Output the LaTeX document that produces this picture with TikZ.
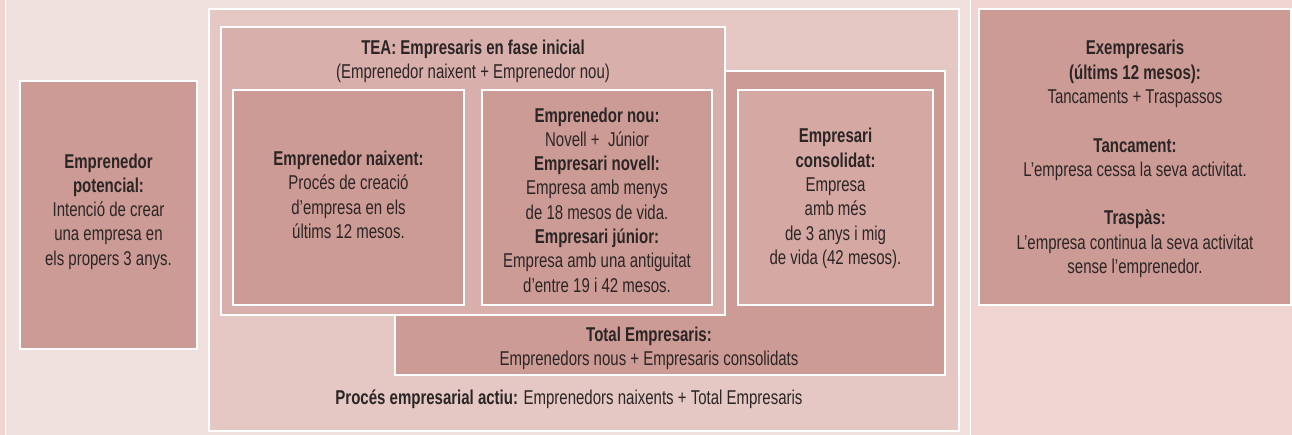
\documentclass[tikz,border=0pt]{standalone}
\usepackage{fontspec}
\setmainfont{Liberation Sans}[FakeStretch=0.75]
\definecolor{bgL}{HTML}{F0E1DF}
\definecolor{bgR}{HTML}{EFD4D1}
\definecolor{procc}{HTML}{E5C8C4}
\definecolor{teac}{HTML}{D9AFAB}
\definecolor{darkc}{HTML}{CD9B95}
\definecolor{consc}{HTML}{D5A8A3}
\definecolor{txtc}{HTML}{2B2525}
\begin{document}
\begin{tikzpicture}[x=1pt,y=-1pt,
  box/.style={draw=white, line width=1.5pt, inner sep=0pt, outer sep=0pt, rectangle},
  txt/.style={align=center, inner sep=0pt, text=txtc, font=\fontsize{20}{24.3}\selectfont}]
\useasboundingbox (0,0) rectangle (1292,435);
\fill[bgR] (0,0) rectangle (1292,435);
\node[box, fill=bgL, minimum width=965pt, minimum height=445pt] (leftpanel) at (488,217.5) {};
% boxes
\node[box, fill=procc, minimum width=750pt, minimum height=422pt] (proc) at (584,220) {};
\node[box, fill=darkc, minimum width=550pt, minimum height=304pt] (total) at (670,223) {};
\node[box, fill=teac, minimum width=504pt, minimum height=288pt] (tea) at (473,171) {};
\node[box, fill=darkc, minimum width=231pt, minimum height=215pt] (naix) at (348.5,197.5) {};
\node[box, fill=darkc, minimum width=230pt, minimum height=215pt] (nou) at (597,197.5) {};
\node[box, fill=consc, minimum width=195pt, minimum height=215pt] (cons) at (835.5,197.5) {};
\node[box, fill=darkc, minimum width=177pt, minimum height=268pt] (pot) at (108.5,215) {};
\node[box, fill=darkc, minimum width=312pt, minimum height=296pt] (exemp) at (1135,157) {};
% texts
\node[txt] (tpot) at (108.5,211.5) {\textbf{Emprenedor}\\\textbf{potencial:}\\Intenció de crear\\una empresa en\\els propers 3 anys.};
\node[txt] (ttea) at (473,61.5) {\textbf{TEA: Empresaris en fase inicial}\\(Emprenedor naixent + Emprenedor nou)};
\node[txt] (tnaix) at (348.5,195) {\textbf{Emprenedor naixent:}\\Procés de creació\\d’empresa en els\\últims 12 mesos.};
\node[txt] (tnou) at (597,200) {\textbf{Emprenedor nou:}\\Novell + ~Júnior\\\textbf{Empresari novell:}\\Empresa amb menys\\de 18 mesos de vida.\\\textbf{Empresari júnior:}\\Empresa amb una antiguitat\\d’entre 19 i 42 mesos.};
\node[txt] (tcons) at (835.5,198.5) {\textbf{Empresari}\\\textbf{consolidat:}\\Empresa\\amb més\\de 3 anys i mig\\de vida (42 mesos).};
\node[txt] (ttotal) at (649,348) {\textbf{Total Empresaris:}\\Emprenedors nous + Empresaris consolidats};
\node[txt] (tproc) at (569,399.5) {\textbf{Procés empresarial actiu:} Emprenedors naixents + Total Empresaris};
\node[txt] (texemp) at (1135,159) {\textbf{Exempresaris}\\\textbf{(últims 12 mesos):}\\Tancaments + Traspassos\\[24.3pt]\textbf{Tancament:}\\L’empresa cessa la seva activitat.\\[24.3pt]\textbf{Traspàs:}\\L’empresa continua la seva activitat\\sense l’emprenedor.};
\end{tikzpicture}
\end{document}
